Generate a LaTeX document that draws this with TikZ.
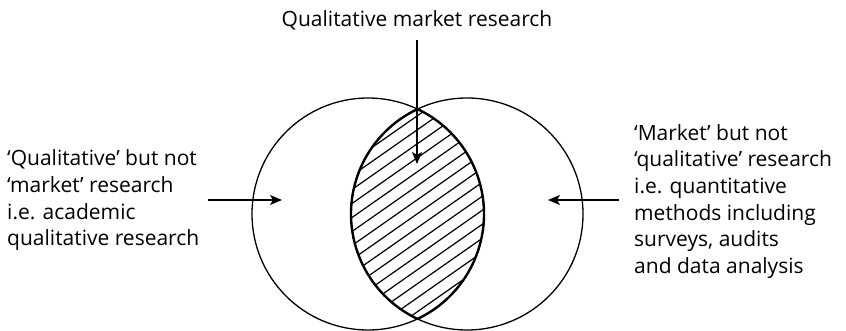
\documentclass[tikz,border=0pt]{standalone}
\usepackage{fontspec}
\setmainfont{Open Sans}
\usetikzlibrary{arrows.meta,positioning}
\tikzset{
  venn/set/.style={draw, circle, line width=1.3pt, inner sep=0pt, minimum size=232pt},
  venn/lens/.style={draw, line width=2.4pt},
  venn/hatch/.style={line width=1.2pt},
  venn/label/.style={align=left, inner sep=0pt, font=\fontsize{21}{26.7}\selectfont},
  venn/arrow/.style={-{Stealth[length=12pt, width=10pt, inset=3pt]}, line width=1.3pt}
}

\begin{document}
\begin{tikzpicture}[x=1pt, y=-1pt]
  \useasboundingbox (0,0) rectangle (846,331);

  \node[venn/set] (qual) at (368,214) {};
  \node[venn/set] (market) at (467,214) {};

  % overlap of the two sets
  \pgfmathsetmacro\lensang{acos(49.5/116)}
  \begin{scope}
    \clip (qual.center) circle (116);
    \clip (market.center) circle (116);
    \foreach \k in {-14,...,14}
      \draw[venn/hatch] (267,214+14*\k+105) -- (567,214+14*\k-105);
  \end{scope}
  \draw[venn/lens] (qual.center) ++(-\lensang:116) arc[start angle=-\lensang, end angle=\lensang, radius=116]
    arc[start angle=180-\lensang, end angle=180+\lensang, radius=116] -- cycle;

  % base anchor sits on the last line
  \node[venn/label, anchor=base] (title) at (417,27) {Qualitative market research};
  \node[venn/label, anchor=base west] (qonly) at (7,246) {`Qualitative' but not\\`market' research\\i.e. academic\\qualitative research};
  \node[venn/label, anchor=base west] (monly) at (634,273.5) {`Market' but not\\`qualitative' research\\i.e. quantitative\\methods including\\surveys, audits\\and data analysis};

  \coordinate (tiptop) at (417,164);
  \coordinate (tipleft) at (282,200);
  \coordinate (tipright) at (548,200);
  \coordinate (tailleft) at (208,200);
  \coordinate (tailright) at (619,200);

  \draw[venn/arrow] (title.south |- 0,40) -- (tiptop);
  \draw[venn/arrow] (tailleft) -- (tipleft);
  \draw[venn/arrow] (tailright) -- (tipright);
\end{tikzpicture}
\end{document}
